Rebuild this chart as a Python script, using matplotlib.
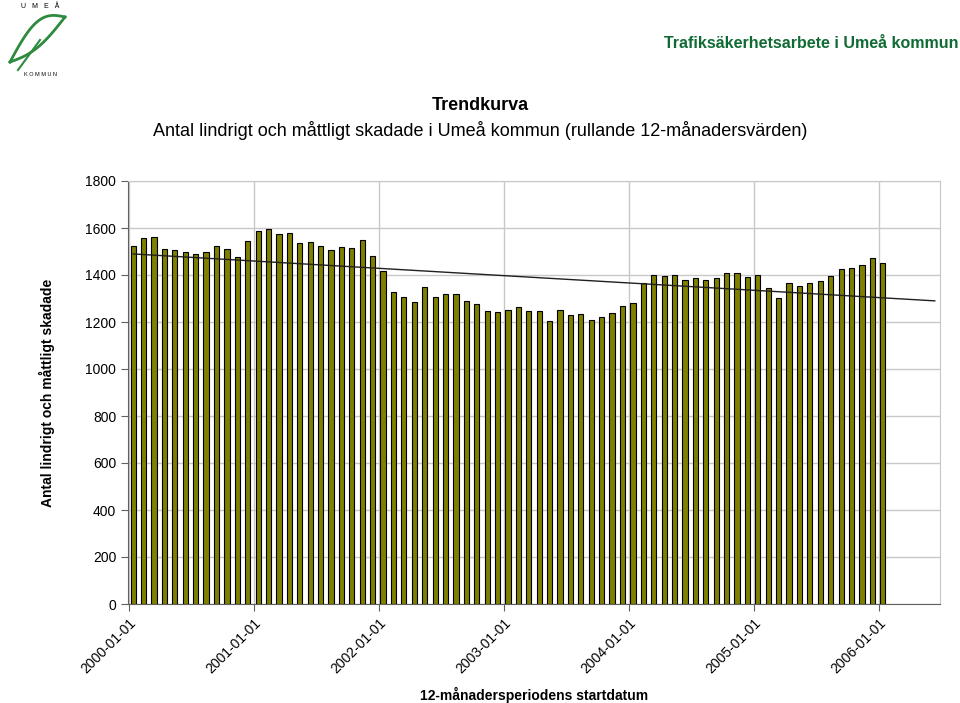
import numpy as np
import matplotlib
matplotlib.use("Agg")
from matplotlib import pyplot as plt

plt.rcParams['font.family'] = ['Liberation Sans', 'DejaVu Sans']

# rolling 12-month values, one per month from 2000-01 to 2006-01
values = [1523, 1557, 1562, 1509, 1505, 1498, 1491, 1498, 1523, 1509, 1475, 1543,
          1587, 1594, 1573, 1577, 1536, 1540, 1523, 1505, 1520, 1513, 1550, 1479,
          1416, 1326, 1306, 1284, 1347, 1306, 1318, 1318, 1288, 1277, 1247, 1242,
          1251, 1262, 1247, 1247, 1204, 1251, 1231, 1235, 1208, 1221, 1238, 1267,
          1281, 1366, 1400, 1396, 1400, 1377, 1386, 1377, 1386, 1407, 1407, 1391,
          1400, 1345, 1303, 1366, 1352, 1366, 1374, 1396, 1427, 1431, 1442, 1471,
          1452]
year_labels = ['2000-01-01', '2001-01-01', '2002-01-01', '2003-01-01',
               '2004-01-01', '2005-01-01', '2006-01-01']
forecast_months = 5

x = np.arange(len(values))

fig = plt.figure(figsize=(9.6, 7.03), dpi=100)
ax = fig.add_axes([128/960, 1-604/703, (940-128)/960, (604-181)/703])

ax.bar(x, values, width=0.5, color='#808000', edgecolor='black', linewidth=0.8, zorder=3)

# linear trend (Excel style), extended a few months forward
k, m = np.polyfit(x, values, 1)
xt = np.arange(len(values) + forecast_months)
ax.plot(xt, k*xt + m, color='#202020', linewidth=1.0, zorder=4)

ax.set_xlim(-0.5, 77.5)
ax.set_ylim(0, 1800)
ax.set_yticks(range(0, 1801, 200))
tick_pos = np.arange(len(year_labels))*12 - 0.4
ax.set_xticks(tick_pos)
ax.set_xticklabels(year_labels, rotation=45, ha='right', rotation_mode='anchor', fontsize=10)
ax.tick_params(axis='y', labelsize=10, length=5, color='#606060')
ax.tick_params(axis='x', length=5, color='#606060')
ax.grid(True, color='#c8c8c8', linewidth=1.0, zorder=0)
for s in ['top', 'right']:
    ax.spines[s].set_color('#c8c8c8')
for s in ['left', 'bottom']:
    ax.spines[s].set_color('#606060')

ax.set_ylabel('Antal lindrigt och måttligt skadade', fontsize=10, fontweight='bold', labelpad=22)
ax.set_xlabel('12-månadersperiodens startdatum', fontsize=10, fontweight='bold', labelpad=8)

fig.text(0.5, 1-106/703, 'Trendkurva', ha='center', va='center', fontsize=13, fontweight='bold')
fig.text(0.5, 1-131/703, 'Antal lindrigt och måttligt skadade i Umeå kommun (rullande 12-månadersvärden)',
         ha='center', va='center', fontsize=13)
fig.text(958/960, 1-43/703, 'Trafiksäkerhetsarbete i Umeå kommun', ha='right', va='center',
         fontsize=11.5, fontweight='bold', color='#0f6b33')

# simple leaf logo
lg = fig.add_axes([0, 1-80/703, 80/960, 80/703])
lg.set_xlim(0, 80)
lg.set_ylim(80, 0)
lg.axis('off')
lg.text(40, 6, 'U   M   E   Å', ha='center', va='center', fontsize=5)
lg.text(40, 75, 'K O M M U N', ha='center', va='center', fontsize=4)
t = np.linspace(0, 1, 50)
lx = 10 + 55*t
ly = 62 - 45*t - 18*np.sin(np.pi*t)
lg.plot(lx, ly, color='#2e8b3e', linewidth=2)
lx2 = 10 + 55*t
ly2 = 62 - 45*t + 8*np.sin(np.pi*t)
lg.plot(lx2, ly2, color='#2e8b3e', linewidth=2)
lg.plot([18, 40], [70, 40], color='#2e8b3e', linewidth=1.5)

fig.savefig('out.png', dpi=100)
